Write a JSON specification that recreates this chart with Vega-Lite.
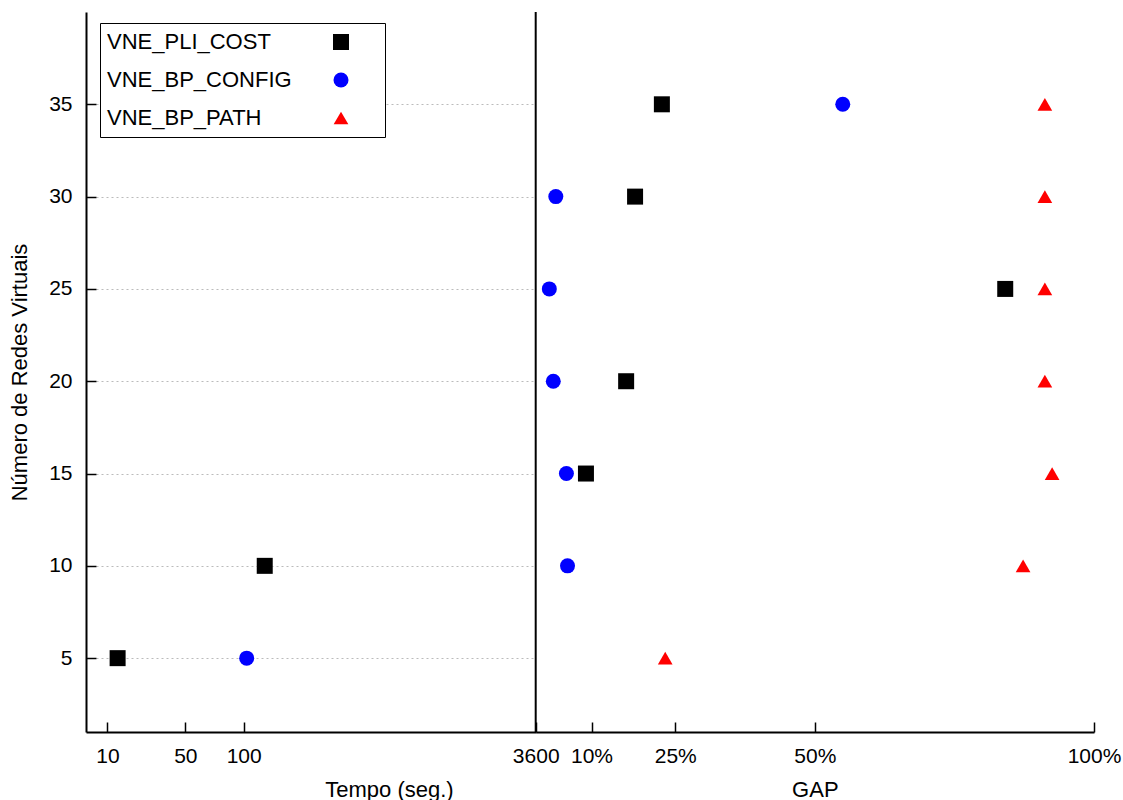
{
  "$schema": "https://vega.github.io/schema/vega-lite/v6.json",
  "width": 1008,
  "height": 720,
  "autosize": {"type": "none"},
  "padding": {"left": 86, "top": 12, "right": 29, "bottom": 68},
  "background": "white",
  "config": {
    "view": {"stroke": null},
    "font": "Liberation Sans",
    "axis": {
      "domainColor": "black",
      "domainWidth": 2,
      "tickColor": "black",
      "tickWidth": 1.5,
      "tickSize": -10,
      "labelColor": "black",
      "labelFont": "Liberation Sans",
      "labelFontSize": 21,
      "titleFont": "Liberation Sans",
      "titleFontSize": 22,
      "titleFontWeight": "normal",
      "titleColor": "black",
      "grid": false,
      "labelFlush": false,
      "labelOverlap": false
    }
  },
  "data": {
    "values": [
      {"vn": 5, "metodo": "VNE_PLI_COST", "tempo": 13.5},
      {"vn": 5, "metodo": "VNE_BP_CONFIG", "tempo": 110.5},
      {"vn": 5, "metodo": "VNE_BP_PATH", "gap": 23.2},
      {"vn": 10, "metodo": "VNE_PLI_COST", "tempo": 185},
      {"vn": 10, "metodo": "VNE_BP_CONFIG", "gap": 5.7},
      {"vn": 10, "metodo": "VNE_BP_PATH", "gap": 87.3},
      {"vn": 15, "metodo": "VNE_PLI_COST", "gap": 9.0},
      {"vn": 15, "metodo": "VNE_BP_CONFIG", "gap": 5.5},
      {"vn": 15, "metodo": "VNE_BP_PATH", "gap": 92.5},
      {"vn": 20, "metodo": "VNE_PLI_COST", "gap": 16.2},
      {"vn": 20, "metodo": "VNE_BP_CONFIG", "gap": 3.15},
      {"vn": 20, "metodo": "VNE_BP_PATH", "gap": 91.2},
      {"vn": 25, "metodo": "VNE_PLI_COST", "gap": 84.1},
      {"vn": 25, "metodo": "VNE_BP_CONFIG", "gap": 2.44},
      {"vn": 25, "metodo": "VNE_BP_PATH", "gap": 91.2},
      {"vn": 30, "metodo": "VNE_PLI_COST", "gap": 17.8},
      {"vn": 30, "metodo": "VNE_BP_CONFIG", "gap": 3.6},
      {"vn": 30, "metodo": "VNE_BP_PATH", "gap": 91.2},
      {"vn": 35, "metodo": "VNE_PLI_COST", "gap": 22.6},
      {"vn": 35, "metodo": "VNE_BP_CONFIG", "gap": 55.0},
      {"vn": 35, "metodo": "VNE_BP_PATH", "gap": 91.2}
    ]
  },
  "layer": [
    {
      "layer": [
        {
          "transform": [{"filter": "isValid(datum.tempo)"}],
          "mark": {"type": "point", "filled": true, "opacity": 1},
          "encoding": {
            "x": {
              "field": "tempo",
              "type": "quantitative",
              "scale": {"type": "sqrt", "domain": [4.36, 100, 3600], "range": [0, 157.7, 449.7], "nice": false, "zero": false},
              "axis": {"orient": "bottom", "values": [10, 50, 100, 3600], "format": "d", "title": "Tempo (seg.)", "titleX": 303, "labelPadding": 23, "titlePadding": 13}
            },
            "y": {
              "field": "vn",
              "type": "quantitative",
              "scale": {"domain": [1, 40], "nice": false, "zero": false},
              "axis": {"values": [5, 10, 15, 20, 25, 30, 35], "grid": true, "gridDash": [2, 3], "gridColor": "#bbbbbb", "gridWidth": 1, "title": "Número de Redes Virtuais", "labelPadding": 24, "titlePadding": 17}
            },
            "color": {
              "field": "metodo",
              "type": "nominal",
              "scale": {"domain": ["VNE_PLI_COST", "VNE_BP_CONFIG", "VNE_BP_PATH"], "range": ["#000000", "#0000ff", "#ff0000"]},
              "legend": {
                "orient": "none", "legendX": 14, "legendY": 11,
                "title": " ", "titleOrient": "right", "titlePadding": 28, "titleFontSize": 8,
                "labelFont": "Liberation Sans", "labelFontSize": 22, "labelColor": "black", "labelLimit": 0,
                "labelOffset": -245, "symbolOffset": 222,
                "padding": 8, "rowPadding": 16,
                "fillColor": "white", "strokeColor": "black"
              }
            },
            "shape": {
              "field": "metodo",
              "type": "nominal",
              "scale": {"domain": ["VNE_PLI_COST", "VNE_BP_CONFIG", "VNE_BP_PATH"], "range": ["square", "circle", "triangle-up"]}
            },
            "size": {
              "field": "metodo",
              "type": "nominal",
              "scale": {"type": "ordinal", "domain": ["VNE_PLI_COST", "VNE_BP_CONFIG", "VNE_BP_PATH"], "range": [256, 225, 216]}
            }
          }
        },
        {
          "data": {"values": [{"tempo": 3600}]},
          "mark": {"type": "rule", "color": "black", "strokeWidth": 2},
          "encoding": {"x": {"field": "tempo", "type": "quantitative"}}
        }
      ]
    },
    {
      "transform": [{"filter": "isValid(datum.gap)"}],
      "mark": {"type": "point", "filled": true, "opacity": 1},
      "encoding": {
        "x": {
          "field": "gap",
          "type": "quantitative",
          "scale": {"domain": [0, 100], "range": [449.7, 1008], "nice": false, "zero": false},
          "axis": {"orient": "bottom", "values": [10, 25, 50, 100], "labelExpr": "datum.value + '%'", "title": "GAP", "labelPadding": 23, "titlePadding": 13}
        },
        "y": {"field": "vn", "type": "quantitative"},
        "color": {"field": "metodo", "type": "nominal", "scale": {"domain": ["VNE_PLI_COST", "VNE_BP_CONFIG", "VNE_BP_PATH"], "range": ["#000000", "#0000ff", "#ff0000"]}},
        "shape": {"field": "metodo", "type": "nominal", "scale": {"domain": ["VNE_PLI_COST", "VNE_BP_CONFIG", "VNE_BP_PATH"], "range": ["square", "circle", "triangle-up"]}},
        "size": {"field": "metodo", "type": "nominal", "scale": {"type": "ordinal", "domain": ["VNE_PLI_COST", "VNE_BP_CONFIG", "VNE_BP_PATH"], "range": [256, 225, 216]}}
      }
    }
  ],
  "resolve": {"scale": {"x": "independent"}, "axis": {"x": "independent"}}
}
